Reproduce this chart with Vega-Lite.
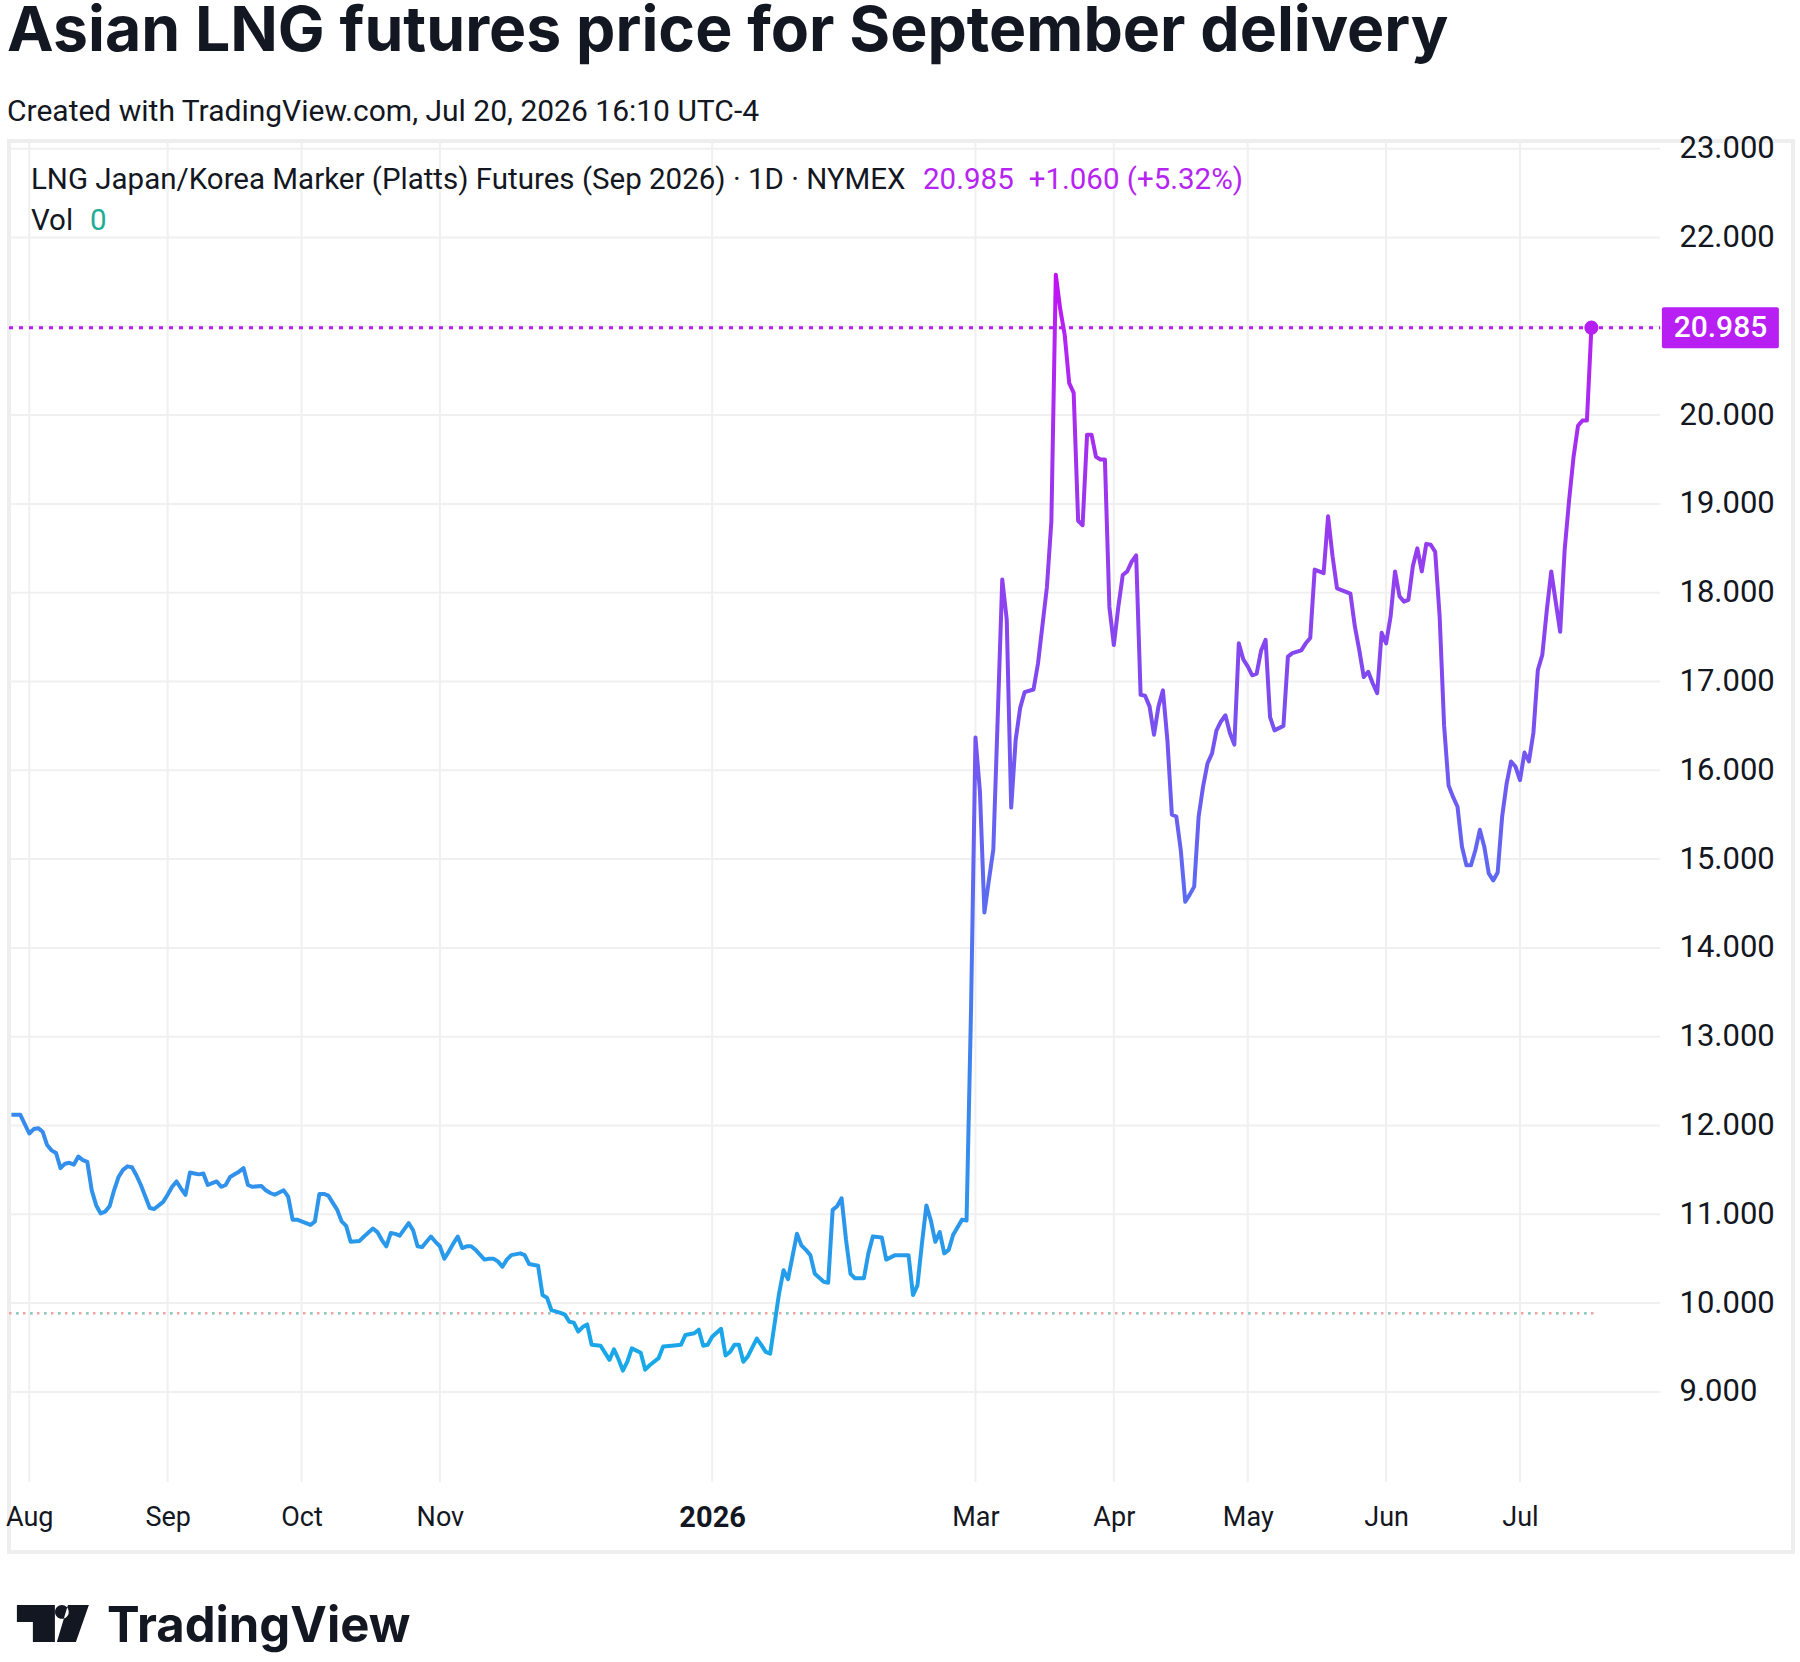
{
  "$schema": "https://vega.github.io/schema/vega-lite/v6.json",
  "width": 1784,
  "height": 1411,
  "autosize": "none",
  "padding": {"left": 9, "top": 141, "right": 7, "bottom": 110},
  "background": "white",
  "title": {
    "text": "Asian LNG futures price for September delivery",
    "subtitle": "Created with TradingView.com, Jul 20, 2026 16:10 UTC-4",
    "anchor": "start",
    "frame": "group",
    "font": "Inter",
    "fontSize": 62.5,
    "fontWeight": 700,
    "color": "#131722",
    "subtitleFont": "Roboto",
    "subtitleFontSize": 30,
    "subtitleColor": "#131722",
    "subtitlePadding": 33,
    "offset": 4.5,
    "dx": -2
  },
  "datasets": {
    "prices": [
      {"date":"2025-07-28","price":12.12},{"date":"2025-07-30","price":12.12},{"date":"2025-08-01","price":11.91},{"date":"2025-08-02","price":11.96},{"date":"2025-08-03","price":11.97},{"date":"2025-08-04","price":11.93},{"date":"2025-08-05","price":11.78},{"date":"2025-08-06","price":11.72},{"date":"2025-08-07","price":11.69},{"date":"2025-08-08","price":11.52},{"date":"2025-08-09","price":11.57},{"date":"2025-08-10","price":11.58},{"date":"2025-08-11","price":11.56},{"date":"2025-08-12","price":11.65},{"date":"2025-08-13","price":11.61},{"date":"2025-08-14","price":11.59},{"date":"2025-08-15","price":11.27},{"date":"2025-08-16","price":11.10},{"date":"2025-08-17","price":11.01},{"date":"2025-08-18","price":11.03},{"date":"2025-08-19","price":11.09},{"date":"2025-08-20","price":11.27},{"date":"2025-08-21","price":11.42},{"date":"2025-08-22","price":11.50},{"date":"2025-08-23","price":11.54},{"date":"2025-08-24","price":11.53},{"date":"2025-08-25","price":11.44},{"date":"2025-08-26","price":11.33},{"date":"2025-08-27","price":11.20},{"date":"2025-08-28","price":11.07},{"date":"2025-08-29","price":11.06},{"date":"2025-08-31","price":11.14},
      {"date":"2025-09-01","price":11.22},{"date":"2025-09-02","price":11.31},{"date":"2025-09-03","price":11.37},{"date":"2025-09-04","price":11.29},{"date":"2025-09-05","price":11.22},{"date":"2025-09-06","price":11.47},{"date":"2025-09-07","price":11.46},{"date":"2025-09-08","price":11.45},{"date":"2025-09-09","price":11.46},{"date":"2025-09-10","price":11.33},{"date":"2025-09-11","price":11.35},{"date":"2025-09-12","price":11.37},{"date":"2025-09-13","price":11.31},{"date":"2025-09-14","price":11.33},{"date":"2025-09-15","price":11.42},{"date":"2025-09-16","price":11.45},{"date":"2025-09-17","price":11.48},{"date":"2025-09-18","price":11.52},{"date":"2025-09-19","price":11.33},{"date":"2025-09-20","price":11.31},{"date":"2025-09-22","price":11.32},{"date":"2025-09-23","price":11.27},{"date":"2025-09-24","price":11.24},{"date":"2025-09-25","price":11.22},{"date":"2025-09-27","price":11.27},{"date":"2025-09-28","price":11.20},{"date":"2025-09-29","price":10.94},{"date":"2025-09-30","price":10.94},
      {"date":"2025-10-01","price":10.92},{"date":"2025-10-03","price":10.88},{"date":"2025-10-04","price":10.92},{"date":"2025-10-05","price":11.23},{"date":"2025-10-06","price":11.23},{"date":"2025-10-07","price":11.21},{"date":"2025-10-09","price":11.05},{"date":"2025-10-10","price":10.92},{"date":"2025-10-11","price":10.87},{"date":"2025-10-12","price":10.69},{"date":"2025-10-14","price":10.70},{"date":"2025-10-15","price":10.75},{"date":"2025-10-17","price":10.84},{"date":"2025-10-18","price":10.80},{"date":"2025-10-19","price":10.71},{"date":"2025-10-20","price":10.64},{"date":"2025-10-21","price":10.79},{"date":"2025-10-22","price":10.78},{"date":"2025-10-23","price":10.76},{"date":"2025-10-25","price":10.90},{"date":"2025-10-26","price":10.82},{"date":"2025-10-27","price":10.64},{"date":"2025-10-28","price":10.63},{"date":"2025-10-29","price":10.69},{"date":"2025-10-30","price":10.75},{"date":"2025-10-31","price":10.69},
      {"date":"2025-11-01","price":10.64},{"date":"2025-11-02","price":10.50},{"date":"2025-11-03","price":10.58},{"date":"2025-11-04","price":10.67},{"date":"2025-11-05","price":10.75},{"date":"2025-11-06","price":10.62},{"date":"2025-11-07","price":10.64},{"date":"2025-11-08","price":10.64},{"date":"2025-11-09","price":10.60},{"date":"2025-11-11","price":10.49},{"date":"2025-11-12","price":10.50},{"date":"2025-11-13","price":10.50},{"date":"2025-11-14","price":10.47},{"date":"2025-11-15","price":10.41},{"date":"2025-11-16","price":10.49},{"date":"2025-11-17","price":10.54},{"date":"2025-11-19","price":10.56},{"date":"2025-11-20","price":10.54},{"date":"2025-11-21","price":10.44},{"date":"2025-11-23","price":10.42},{"date":"2025-11-24","price":10.09},{"date":"2025-11-25","price":10.06},{"date":"2025-11-26","price":9.92},{"date":"2025-11-28","price":9.89},{"date":"2025-11-29","price":9.87},{"date":"2025-11-30","price":9.79},
      {"date":"2025-12-01","price":9.78},{"date":"2025-12-02","price":9.68},{"date":"2025-12-03","price":9.73},{"date":"2025-12-04","price":9.76},{"date":"2025-12-05","price":9.53},{"date":"2025-12-07","price":9.52},{"date":"2025-12-09","price":9.36},{"date":"2025-12-10","price":9.48},{"date":"2025-12-11","price":9.37},{"date":"2025-12-12","price":9.24},{"date":"2025-12-13","price":9.34},{"date":"2025-12-14","price":9.49},{"date":"2025-12-16","price":9.44},{"date":"2025-12-17","price":9.25},{"date":"2025-12-18","price":9.30},{"date":"2025-12-20","price":9.38},{"date":"2025-12-21","price":9.51},{"date":"2025-12-23","price":9.52},{"date":"2025-12-25","price":9.53},{"date":"2025-12-26","price":9.64},{"date":"2025-12-28","price":9.66},{"date":"2025-12-29","price":9.70},{"date":"2025-12-30","price":9.52},{"date":"2025-12-31","price":9.53},
      {"date":"2026-01-01","price":9.62},{"date":"2026-01-03","price":9.71},{"date":"2026-01-04","price":9.41},{"date":"2026-01-05","price":9.45},{"date":"2026-01-06","price":9.53},{"date":"2026-01-07","price":9.53},{"date":"2026-01-08","price":9.34},{"date":"2026-01-09","price":9.40},{"date":"2026-01-11","price":9.60},{"date":"2026-01-12","price":9.53},{"date":"2026-01-13","price":9.45},{"date":"2026-01-14","price":9.43},{"date":"2026-01-15","price":9.77},{"date":"2026-01-16","price":10.11},{"date":"2026-01-17","price":10.37},{"date":"2026-01-18","price":10.27},{"date":"2026-01-20","price":10.78},{"date":"2026-01-21","price":10.65},{"date":"2026-01-22","price":10.60},{"date":"2026-01-23","price":10.54},{"date":"2026-01-24","price":10.33},{"date":"2026-01-26","price":10.24},{"date":"2026-01-27","price":10.23},{"date":"2026-01-28","price":11.05},{"date":"2026-01-29","price":11.09},{"date":"2026-01-30","price":11.18},{"date":"2026-01-31","price":10.71},
      {"date":"2026-02-01","price":10.33},{"date":"2026-02-02","price":10.28},{"date":"2026-02-04","price":10.28},{"date":"2026-02-05","price":10.56},{"date":"2026-02-06","price":10.75},{"date":"2026-02-08","price":10.74},{"date":"2026-02-09","price":10.49},{"date":"2026-02-11","price":10.54},{"date":"2026-02-14","price":10.54},{"date":"2026-02-15","price":10.09},{"date":"2026-02-16","price":10.20},{"date":"2026-02-17","price":10.67},{"date":"2026-02-18","price":11.10},{"date":"2026-02-19","price":10.93},{"date":"2026-02-20","price":10.69},{"date":"2026-02-21","price":10.80},{"date":"2026-02-22","price":10.56},{"date":"2026-02-23","price":10.60},{"date":"2026-02-24","price":10.77},{"date":"2026-02-26","price":10.94},{"date":"2026-02-27","price":10.93},{"date":"2026-02-28","price":13.30},
      {"date":"2026-03-01","price":16.37},{"date":"2026-03-02","price":15.76},{"date":"2026-03-03","price":14.40},{"date":"2026-03-04","price":14.76},{"date":"2026-03-05","price":15.11},{"date":"2026-03-06","price":16.62},{"date":"2026-03-07","price":18.15},{"date":"2026-03-08","price":17.70},{"date":"2026-03-09","price":15.58},{"date":"2026-03-10","price":16.34},{"date":"2026-03-11","price":16.70},{"date":"2026-03-12","price":16.88},{"date":"2026-03-14","price":16.91},{"date":"2026-03-15","price":17.20},{"date":"2026-03-16","price":17.63},{"date":"2026-03-17","price":18.06},{"date":"2026-03-18","price":18.80},{"date":"2026-03-19","price":21.58},{"date":"2026-03-20","price":21.19},{"date":"2026-03-21","price":20.90},{"date":"2026-03-22","price":20.36},{"date":"2026-03-23","price":20.25},{"date":"2026-03-24","price":18.81},{"date":"2026-03-25","price":18.76},{"date":"2026-03-26","price":19.78},{"date":"2026-03-27","price":19.78},{"date":"2026-03-28","price":19.53},{"date":"2026-03-29","price":19.50},{"date":"2026-03-30","price":19.50},{"date":"2026-03-31","price":17.84},
      {"date":"2026-04-01","price":17.41},{"date":"2026-04-02","price":17.84},{"date":"2026-04-03","price":18.20},{"date":"2026-04-04","price":18.24},{"date":"2026-04-05","price":18.35},{"date":"2026-04-06","price":18.42},{"date":"2026-04-07","price":16.85},{"date":"2026-04-08","price":16.84},{"date":"2026-04-09","price":16.72},{"date":"2026-04-10","price":16.40},{"date":"2026-04-11","price":16.72},{"date":"2026-04-12","price":16.90},{"date":"2026-04-13","price":16.34},{"date":"2026-04-14","price":15.50},{"date":"2026-04-15","price":15.48},{"date":"2026-04-16","price":15.10},{"date":"2026-04-17","price":14.52},{"date":"2026-04-18","price":14.60},{"date":"2026-04-19","price":14.69},{"date":"2026-04-20","price":15.48},{"date":"2026-04-21","price":15.82},{"date":"2026-04-22","price":16.08},{"date":"2026-04-23","price":16.19},{"date":"2026-04-24","price":16.45},{"date":"2026-04-25","price":16.55},{"date":"2026-04-26","price":16.62},{"date":"2026-04-27","price":16.42},{"date":"2026-04-28","price":16.29},{"date":"2026-04-29","price":17.43},{"date":"2026-04-30","price":17.25},
      {"date":"2026-05-01","price":17.17},{"date":"2026-05-02","price":17.07},{"date":"2026-05-03","price":17.09},{"date":"2026-05-04","price":17.35},{"date":"2026-05-05","price":17.47},{"date":"2026-05-06","price":16.60},{"date":"2026-05-07","price":16.45},{"date":"2026-05-09","price":16.50},{"date":"2026-05-10","price":17.28},{"date":"2026-05-11","price":17.32},{"date":"2026-05-13","price":17.35},{"date":"2026-05-14","price":17.43},{"date":"2026-05-15","price":17.49},{"date":"2026-05-16","price":18.26},{"date":"2026-05-18","price":18.22},{"date":"2026-05-19","price":18.86},{"date":"2026-05-20","price":18.41},{"date":"2026-05-21","price":18.05},{"date":"2026-05-22","price":18.03},{"date":"2026-05-24","price":17.99},{"date":"2026-05-25","price":17.62},{"date":"2026-05-26","price":17.35},{"date":"2026-05-27","price":17.05},{"date":"2026-05-28","price":17.11},{"date":"2026-05-29","price":16.98},{"date":"2026-05-30","price":16.87},{"date":"2026-05-31","price":17.55},
      {"date":"2026-06-01","price":17.43},{"date":"2026-06-02","price":17.73},{"date":"2026-06-03","price":18.24},{"date":"2026-06-04","price":17.96},{"date":"2026-06-05","price":17.90},{"date":"2026-06-06","price":17.92},{"date":"2026-06-07","price":18.30},{"date":"2026-06-08","price":18.50},{"date":"2026-06-09","price":18.24},{"date":"2026-06-10","price":18.55},{"date":"2026-06-11","price":18.54},{"date":"2026-06-12","price":18.46},{"date":"2026-06-13","price":17.73},{"date":"2026-06-14","price":16.50},{"date":"2026-06-15","price":15.83},{"date":"2026-06-16","price":15.70},{"date":"2026-06-17","price":15.59},{"date":"2026-06-18","price":15.14},{"date":"2026-06-19","price":14.93},{"date":"2026-06-20","price":14.93},{"date":"2026-06-21","price":15.10},{"date":"2026-06-22","price":15.33},{"date":"2026-06-23","price":15.14},{"date":"2026-06-24","price":14.84},{"date":"2026-06-25","price":14.76},{"date":"2026-06-26","price":14.85},{"date":"2026-06-27","price":15.48},{"date":"2026-06-28","price":15.85},{"date":"2026-06-29","price":16.10},{"date":"2026-06-30","price":16.04},
      {"date":"2026-07-01","price":15.89},{"date":"2026-07-02","price":16.20},{"date":"2026-07-03","price":16.10},{"date":"2026-07-04","price":16.42},{"date":"2026-07-05","price":17.13},{"date":"2026-07-06","price":17.30},{"date":"2026-07-07","price":17.80},{"date":"2026-07-08","price":18.24},{"date":"2026-07-09","price":17.90},{"date":"2026-07-10","price":17.56},{"date":"2026-07-11","price":18.48},{"date":"2026-07-12","price":19.04},{"date":"2026-07-13","price":19.53},{"date":"2026-07-14","price":19.88},{"date":"2026-07-15","price":19.94},{"date":"2026-07-16","price":19.94},{"date":"2026-07-17","price":20.985}
    ],
    "last": [{"day":"2026-07-17T00:00","price":20.985,"label":"20.985"}],
    "gridY": [{"v":9},{"v":10},{"v":11},{"v":12},{"v":13},{"v":14},{"v":15},{"v":16},{"v":17},{"v":18},{"v":19},{"v":20},{"v":21},{"v":22},{"v":23}],
    "gridX": [{"date":"2025-08-01"},{"date":"2025-09-01"},{"date":"2025-10-01"},{"date":"2025-11-01"},{"date":"2026-01-01"},{"date":"2026-03-01"},{"date":"2026-04-01"},{"date":"2026-05-01"},{"date":"2026-06-01"},{"date":"2026-07-01"}],
    "volLine": [{"level":9.885}],
    "legend": [
      {"part":"name","text":"LNG Japan/Korea Marker (Platts) Futures (Sep 2026) · 1D · NYMEX"},
      {"part":"quote","text":"20.985"},
      {"part":"change","text":"+1.060 (+5.32%)"},
      {"part":"vol","text":"Vol"},
      {"part":"volval","text":"0"},
      {"part":"brand","text":"TradingView"}
    ]
  },
  "layer": [
    {
      "data": {"name": "gridX", "format": {"parse": {"date": "date:'%Y-%m-%d'"}}},
      "mark": {"type": "rule", "color": "#f0f0f0", "strokeWidth": 2},
      "encoding": {
        "x": {"field": "date", "type": "temporal"},
        "y": {"datum": 7.985, "type": "quantitative"},
        "y2": {"datum": 23.087}
      }
    },
    {
      "data": {"name": "gridY"},
      "mark": {"type": "rule", "color": "#f0f0f0", "strokeWidth": 2},
      "encoding": {
        "y": {"field": "v", "type": "quantitative"},
        "x": {"datum": {"year": 2025, "month": 7, "date": 27, "hours": 11}, "type": "temporal"},
        "x2": {"datum": {"year": 2026, "month": 8, "date": 1, "hours": 10}}
      }
    },
    {
      "data": {"name": "volLine"},
      "mark": {"type": "rule", "color": "#f4a0a0", "strokeWidth": 2.5, "strokeDash": [2.5, 4.5]},
      "encoding": {
        "y": {"field": "level", "type": "quantitative"},
        "x": {"datum": {"year": 2025, "month": 7, "date": 27, "hours": 11}, "type": "temporal"},
        "x2": {"datum": {"year": 2026, "month": 7, "date": 17, "hours": 19}}
      }
    },
    {
      "data": {"name": "volLine"},
      "mark": {"type": "rule", "color": "#86d0c4", "strokeWidth": 2.5, "strokeDash": [2.5, 11.5], "strokeDashOffset": 7},
      "encoding": {
        "y": {"field": "level", "type": "quantitative"},
        "x": {"datum": {"year": 2025, "month": 7, "date": 27, "hours": 11}, "type": "temporal"},
        "x2": {"datum": {"year": 2026, "month": 7, "date": 17, "hours": 19}}
      }
    },
    {
      "data": {"name": "last"},
      "mark": {"type": "rule", "color": "#b71ff3", "strokeWidth": 3, "strokeDash": [4, 6]},
      "encoding": {
        "y": {"field": "price", "type": "quantitative"},
        "x": {"datum": {"year": 2025, "month": 7, "date": 27, "hours": 11}, "type": "temporal"},
        "x2": {"datum": {"year": 2026, "month": 8, "date": 1, "hours": 10}}
      }
    },
    {
      "data": {"name": "prices", "format": {"parse": {"date": "date:'%Y-%m-%d'"}}},
      "mark": {
        "type": "line",
        "strokeWidth": 4,
        "strokeJoin": "round",
        "color": {
          "gradient": "linear",
          "x1": 0, "y1": 1, "x2": 0, "y2": 0,
          "stops": [
            {"offset": 0, "color": "#16aae8"},
            {"offset": 0.143, "color": "#2d95eb"},
            {"offset": 0.305, "color": "#417fee"},
            {"offset": 0.426, "color": "#5a6cf1"},
            {"offset": 0.548, "color": "#7159f1"},
            {"offset": 0.629, "color": "#8049f0"},
            {"offset": 0.71, "color": "#8f42ef"},
            {"offset": 0.83, "color": "#a131ef"},
            {"offset": 0.953, "color": "#b622f2"},
            {"offset": 1, "color": "#c010f5"}
          ]
        }
      },
      "encoding": {
        "x": {
          "field": "date",
          "type": "temporal",
          "scale": {"domain": [{"year": 2025, "month": 7, "date": 27, "hours": 11}, {"year": 2026, "month": 8, "date": 31, "hours": 4}]},
          "axis": {
            "values": [
              {"year": 2025, "month": 8, "date": 1},
              {"year": 2025, "month": 9, "date": 1},
              {"year": 2025, "month": 10, "date": 1},
              {"year": 2025, "month": 11, "date": 1},
              {"year": 2026, "month": 1, "date": 1},
              {"year": 2026, "month": 3, "date": 1},
              {"year": 2026, "month": 4, "date": 1},
              {"year": 2026, "month": 5, "date": 1},
              {"year": 2026, "month": 6, "date": 1},
              {"year": 2026, "month": 7, "date": 1}
            ],
            "labelExpr": "month(datum.value) == 0 ? timeFormat(datum.value, '%Y') : timeFormat(datum.value, '%b')",
            "labelFont": "Roboto",
            "labelFontSize": {"condition": {"test": "month(datum.value) == 0", "value": 29}, "value": 27},
            "labelFontWeight": {"condition": {"test": "month(datum.value) == 0", "value": "bold"}, "value": "normal"},
            "labelColor": "#131722",
            "labelBaseline": "middle",
            "labelPadding": 0,
            "labelFlush": false,
            "labelOverlap": false,
            "domain": false,
            "ticks": false,
            "tickSize": 0,
            "grid": false,
            "offset": -35,
            "title": null
          }
        },
        "y": {
          "field": "price",
          "type": "quantitative",
          "scale": {"domain": [7.197, 23.087], "nice": false, "zero": false},
          "axis": {
            "orient": "right",
            "values": [9, 10, 11, 12, 13, 14, 15, 16, 17, 18, 19, 20, 22, 23],
            "format": ".3f",
            "labelFont": "Roboto",
            "labelFontSize": 31,
            "labelColor": "#131722",
            "labelAlign": "left",
            "labelBaseline": "middle",
            "labelPadding": 0,
            "labelOverlap": false,
            "labelFlush": false,
            "domain": false,
            "ticks": false,
            "tickSize": 0,
            "grid": false,
            "offset": -114,
            "title": null
          }
        }
      }
    },
    {
      "data": {"name": "last"},
      "mark": {"type": "rect", "color": "#b71ff3", "cornerRadius": 2},
      "encoding": {
        "x": {"datum": {"year": 2026, "month": 8, "date": 1, "hours": 19}, "type": "temporal"},
        "x2": {"datum": {"year": 2026, "month": 8, "date": 28}},
        "y": {"datum": 21.216, "type": "quantitative"},
        "y2": {"datum": 20.754}
      }
    },
    {
      "data": {"name": "last"},
      "mark": {"type": "text", "color": "white", "font": "Roboto", "fontSize": 30, "fontWeight": 500, "align": "center", "baseline": "middle"},
      "encoding": {
        "x": {"datum": {"year": 2026, "month": 8, "date": 14, "hours": 22}, "type": "temporal"},
        "y": {"field": "price", "type": "quantitative"},
        "text": {"field": "label"}
      }
    },
    {
      "data": {"name": "legend"},
      "transform": [{"filter": "datum.part == 'name'"}],
      "mark": {"type": "text", "color": "#131722", "font": "Roboto", "fontSize": 29.5, "align": "left", "baseline": "middle"},
      "encoding": {
        "x": {"datum": {"year": 2025, "month": 8, "date": 1, "hours": 9}, "type": "temporal"},
        "y": {"datum": 22.65, "type": "quantitative"},
        "text": {"field": "text"}
      }
    },
    {
      "data": {"name": "legend"},
      "transform": [{"filter": "datum.part == 'quote'"}],
      "mark": {"type": "text", "color": "#b624f2", "font": "Roboto", "fontSize": 29.5, "align": "left", "baseline": "middle"},
      "encoding": {
        "x": {"datum": {"year": 2026, "month": 2, "date": 17, "hours": 6}, "type": "temporal"},
        "y": {"datum": 22.65, "type": "quantitative"},
        "text": {"field": "text"}
      }
    },
    {
      "data": {"name": "legend"},
      "transform": [{"filter": "datum.part == 'change'"}],
      "mark": {"type": "text", "color": "#b624f2", "font": "Roboto", "fontSize": 29.5, "align": "left", "baseline": "middle"},
      "encoding": {
        "x": {"datum": {"year": 2026, "month": 3, "date": 12, "hours": 22}, "type": "temporal"},
        "y": {"datum": 22.65, "type": "quantitative"},
        "text": {"field": "text"}
      }
    },
    {
      "data": {"name": "legend"},
      "transform": [{"filter": "datum.part == 'vol'"}],
      "mark": {"type": "text", "color": "#131722", "font": "Roboto", "fontSize": 29.5, "align": "left", "baseline": "middle"},
      "encoding": {
        "x": {"datum": {"year": 2025, "month": 8, "date": 1, "hours": 9}, "type": "temporal"},
        "y": {"datum": 22.19, "type": "quantitative"},
        "text": {"field": "text"}
      }
    },
    {
      "data": {"name": "legend"},
      "transform": [{"filter": "datum.part == 'volval'"}],
      "mark": {"type": "text", "color": "#22ab94", "font": "Roboto", "fontSize": 29.5, "align": "left", "baseline": "middle"},
      "encoding": {
        "x": {"datum": {"year": 2025, "month": 8, "date": 14, "hours": 14}, "type": "temporal"},
        "y": {"datum": 22.19, "type": "quantitative"},
        "text": {"field": "text"}
      }
    },
    {
      "data": {"name": "legend"},
      "transform": [{"filter": "datum.part == 'brand'"}],
      "mark": {"type": "text", "color": "#131722", "font": "Inter", "fontWeight": 700, "fontSize": 49, "align": "left", "baseline": "alphabetic"},
      "encoding": {
        "x": {"datum": {"year": 2025, "month": 8, "date": 18, "hours": 10}, "type": "temporal"},
        "y": {"datum": 6.183, "type": "quantitative"},
        "text": {"field": "text"}
      }
    },
    {
      "data": {"name": "legend"},
      "transform": [{"filter": "datum.part == 'brand'"}],
      "mark": {
        "type": "point",
        "filled": true,
        "opacity": 1,
        "color": "#131722",
        "size": 5184,
        "strokeWidth": 0,
        "shape": "M -1 -0.514 L 0.056 -0.514 L 0.056 0.514 L -0.556 0.514 L -0.556 -0.042 L -1 -0.042 Z M 0.06 -0.32 A 0.19 0.19 0 1 0 0.44 -0.32 A 0.19 0.19 0 1 0 0.06 -0.32 Z M 0.417 -0.514 L 1 -0.514 L 0.639 0.514 L 0.111 0.514 Z"
      },
      "encoding": {
        "x": {"datum": {"year": 2025, "month": 8, "date": 6, "hours": 7}, "type": "temporal"},
        "y": {"datum": 6.392, "type": "quantitative"}
      }
    },
    {
      "data": {"name": "last"},
      "mark": {"type": "circle", "size": 200, "color": "#b51ff2", "opacity": 1},
      "encoding": {
        "x": {"field": "day", "type": "temporal"},
        "y": {"field": "price", "type": "quantitative"}
      }
    }
  ],
  "config": {
    "view": {"stroke": "#eeeeee", "strokeWidth": 4}
  }
}
